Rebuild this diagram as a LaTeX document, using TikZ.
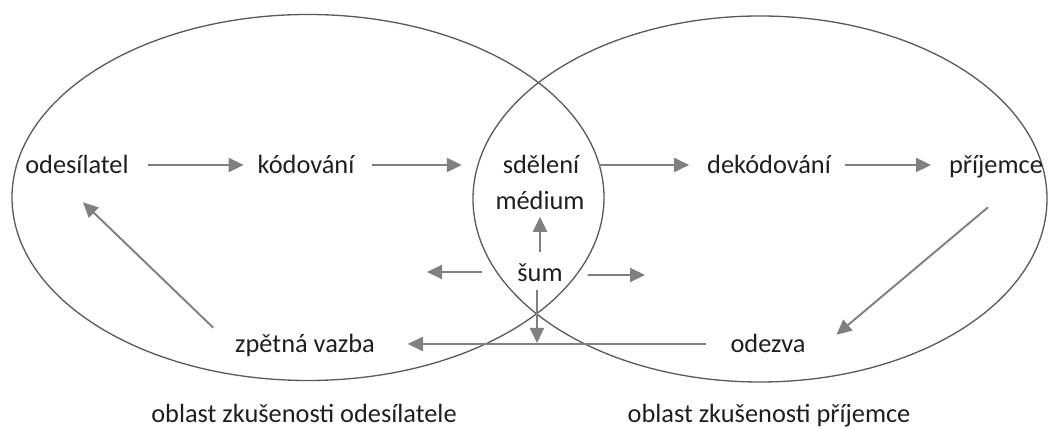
\documentclass[tikz,border=0pt]{standalone}
\usepackage{fontspec}
\setmainfont{Carlito}
\usetikzlibrary{arrows.meta}
\definecolor{arrowgray}{RGB}{128,128,128}
\definecolor{ringgray}{RGB}{90,90,90}
\begin{document}
\begin{tikzpicture}[
  lbl/.style={inner sep=0pt,outer sep=0pt,text height=12pt,text depth=2pt,
    font=\fontsize{15}{18}\selectfont,text=black!88},
  arr/.style={draw=arrowgray,line width=1.1pt,-{Triangle[length=0.3cm,width=0.28cm]}},
  ring/.style={draw=ringgray,line width=0.75pt}]
\useasboundingbox (0,0) rectangle (21.1,8.58);
\draw[ring] (6.16,4.63) ellipse (5.92 and 3.66);
\draw[ring] (15.2,4.6) ellipse (5.74 and 3.66);
\node[lbl] (odesilatel) at (1.54,5.28) {odesílatel};
\node[lbl] (kodovani) at (6.12,5.28) {kódování};
\node[lbl] (sdeleni) at (10.82,5.28) {sdělení};
\node[lbl] (medium) at (10.80,4.56) {médium};
\node[lbl] (sum) at (10.80,3.12) {šum};
\node[lbl] (dekodovani) at (15.38,5.28) {dekódování};
\node[lbl] (prijemce) at (19.92,5.28) {příjemce};
\node[lbl] (odezva) at (15.36,1.70) {odezva};
\node[lbl] (zpetna) at (6.10,1.70) {zpětná vazba};
\node[lbl] (oblastL) at (6.08,0.30) {oblast zkušenosti odesílatele};
\node[lbl] (oblastR) at (15.38,0.30) {oblast zkušenosti příjemce};
\coordinate (noiseL) at (8.54,3.14);
\coordinate (noiseR) at (12.9,3.08);
\coordinate (noiseD) at (10.74,1.72);
\draw[arr,shorten <=0.38cm,shorten >=0.28cm] (odesilatel.east) -- (kodovani.west);
\draw[arr,shorten <=0.36cm,shorten >=0.82cm] (kodovani.east) -- (sdeleni.west);
\draw[arr,shorten <=0.4cm,shorten >=0.36cm] (sdeleni.east) -- (dekodovani.west);
\draw[arr,shorten <=0.28cm,shorten >=0.36cm] (dekodovani.east) -- (prijemce.west);
\draw[arr] ([xshift=-0.16cm,yshift=-0.6cm]prijemce.south) -- ([xshift=0.62cm,yshift=-0.06cm]odezva.north east);
\draw[arr,shorten <=0.5cm,shorten >=0.66cm] (odezva.west) -- (zpetna.east);
\draw[arr] ([xshift=-0.44cm,yshift=0.08cm]zpetna.north west) -- ([xshift=0.12cm,yshift=-0.5cm]odesilatel.south);
\draw[arr,shorten <=0.18cm,shorten >=0.07cm] (sum.north) -- (medium.south);
\draw[arr,shorten <=0.7cm] ([yshift=0.02cm]sum.west) -- (noiseL);
\draw[arr,shorten <=0.5cm] ([yshift=-0.04cm]sum.east) -- (noiseR);
\draw[arr,shorten <=0.1cm] ([xshift=-0.06cm]sum.south) -- (noiseD);
\end{tikzpicture}
\end{document}
